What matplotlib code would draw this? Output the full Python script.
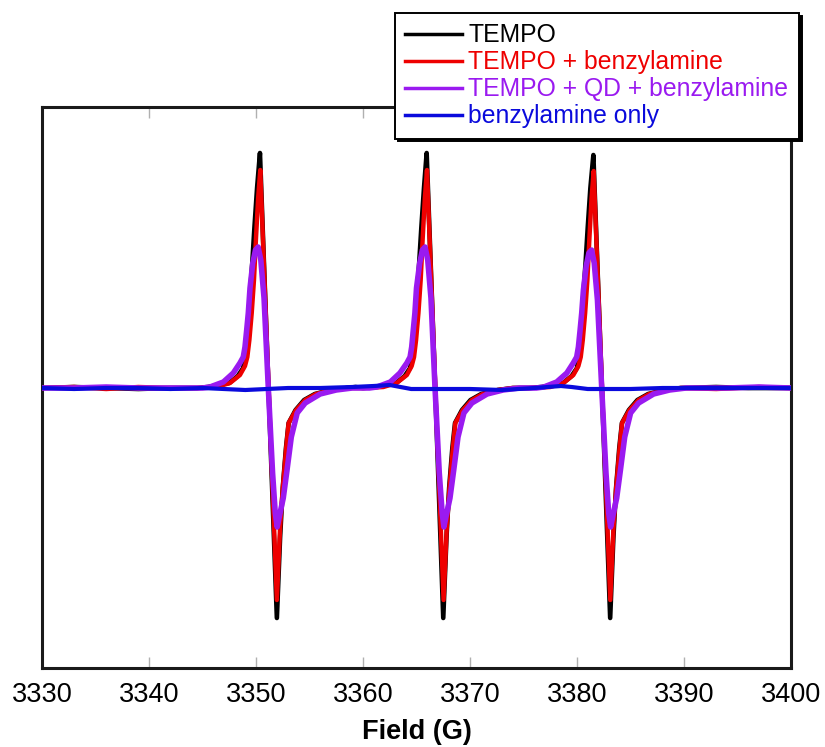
import matplotlib
matplotlib.use("Agg")
import matplotlib.pyplot as plt

plt.rcParams['font.family'] = ['Liberation Sans', 'DejaVu Sans']

# EPR spectra: magnetic field (G) and first-derivative signal (arb. units)
tempo_field = [3330.0, 3333.0, 3336.0, 3339.0, 3342.0, 3344.5, 3345.5, 3346.5, 3347.5, 3348.3,
               3348.8, 3349.0, 3349.2, 3349.45, 3349.65, 3349.85, 3350.1, 3350.37, 3351.16, 3351.95,
               3352.25, 3352.5, 3352.8, 3353.05, 3353.7, 3354.5, 3355.5, 3357.0, 3358.5, 3359.3,
               3360.0, 3361.1, 3362.1, 3363.1, 3363.9, 3364.4, 3364.6, 3364.8, 3365.05, 3365.25,
               3365.45, 3365.7, 3365.95, 3366.74, 3367.5, 3367.8, 3368.05, 3368.35, 3368.6, 3369.25,
               3370.05, 3371.05, 3372.6, 3374.0, 3375.5, 3376.7, 3377.7, 3378.7, 3379.5, 3380.0,
               3380.2, 3380.4, 3380.6, 3380.8, 3381.0, 3381.25, 3381.53, 3382.32, 3383.1, 3383.4,
               3383.65, 3383.95, 3384.2, 3384.85, 3385.65, 3386.65, 3388.2, 3389.7, 3393.0, 3396.0,
               3400.0]
tempo_signal = [0, 1, 0, -1, 0, 0, 1, 3, 5, 12,
                20, 35, 58, 95, 125, 160, 200, 235, 2, -230,
                -150, -100, -60, -35, -22, -12, -6, -2, 0, 1,
                0, 1, 3, 5, 12, 20, 35, 58, 95, 125,
                160, 200, 235, 2, -230, -150, -100, -60, -35, -22,
                -12, -6, -2, 0, 0, 1, 3, 5, 12, 20,
                35, 58, 95, 125, 160, 200, 233, 2, -230, -150,
                -100, -60, -35, -22, -12, -6, -2, 0, 1, 0,
                0]

amine_field = [3330.0, 3333.0, 3336.0, 3339.0, 3342.0, 3344.5, 3346.3, 3347.57, 3348.5, 3348.97,
               3349.19, 3349.38, 3349.6, 3349.81, 3350.0, 3350.2, 3350.4, 3351.17, 3351.95, 3352.25,
               3352.5, 3352.82, 3353.05, 3353.75, 3354.6, 3355.6, 3357.0, 3358.5, 3360.0, 3361.9,
               3363.15, 3364.1, 3364.55, 3364.77, 3364.96, 3365.18, 3365.39, 3365.58, 3365.78, 3365.98,
               3366.75, 3367.53, 3367.83, 3368.08, 3368.4, 3368.63, 3369.33, 3370.18, 3371.18, 3372.6,
               3374.0, 3375.5, 3377.5, 3378.73, 3379.66, 3380.13, 3380.35, 3380.54, 3380.76, 3380.97,
               3381.16, 3381.36, 3381.56, 3382.33, 3383.11, 3383.41, 3383.66, 3383.98, 3384.21, 3384.91,
               3385.76, 3386.76, 3388.2, 3389.7, 3393.0, 3397.0, 3400.0]
amine_signal = [0, 1, -1, 1, 0, 0, 1, 5, 13, 22,
                31, 48, 75, 108, 150, 190, 218, 3, -212, -140,
                -100, -60, -35, -22, -12, -6, -2, 0, 0, 1,
                5, 13, 22, 31, 48, 75, 108, 150, 190, 218,
                3, -212, -140, -100, -60, -35, -22, -12, -6, -2,
                0, 0, 1, 5, 13, 22, 31, 48, 75, 108,
                150, 190, 217, 3, -212, -140, -100, -60, -35, -22,
                -12, -6, -2, 0, -1, 1, 0]

qd_field = [3330.0, 3333.0, 3336.0, 3339.0, 3342.0, 3345.0, 3345.7, 3346.95, 3347.88, 3348.5,
            3348.81, 3348.97, 3349.13, 3349.28, 3349.44, 3349.7, 3349.95, 3350.2, 3350.45, 3350.75,
            3351.15, 3351.55, 3351.8, 3351.98, 3352.25, 3352.55, 3352.9, 3353.3, 3353.85, 3354.6,
            3356.0, 3357.5, 3359.0, 3360.6, 3361.3, 3362.55, 3363.45, 3364.1, 3364.4, 3364.55,
            3364.7, 3364.85, 3365.0, 3365.3, 3365.55, 3365.8, 3366.05, 3366.35, 3366.73, 3367.13,
            3367.4, 3367.56, 3367.83, 3368.13, 3368.48, 3368.88, 3369.43, 3370.18, 3371.6, 3373.1,
            3374.6, 3376.2, 3376.9, 3378.1, 3379.05, 3379.65, 3379.97, 3380.13, 3380.29, 3380.44,
            3380.6, 3380.86, 3381.11, 3381.36, 3381.61, 3381.91, 3382.31, 3382.71, 3382.96, 3383.14,
            3383.41, 3383.71, 3384.06, 3384.46, 3385.01, 3385.76, 3387.16, 3388.66, 3390.2, 3394.0,
            3397.0, 3400.0]
qd_signal = [0, 0, 1, 0, 0, 0, 1, 6, 15, 25,
             31, 41, 58, 75, 100, 125, 138, 141, 128, 90,
             0, -85, -125, -139, -125, -110, -82, -49, -25, -15,
             -6, -2, 0, 0, 1, 6, 15, 25, 31, 41,
             58, 75, 100, 125, 138, 141, 128, 90, 0, -85,
             -125, -139, -125, -110, -82, -49, -25, -15, -6, -2,
             0, 0, 1, 6, 15, 25, 31, 41, 58, 75,
             98, 122, 135, 138, 125, 88, 0, -85, -125, -139,
             -125, -110, -82, -49, -25, -15, -6, -2, 0, 0,
             1, 0]

blank_field = [3330.0, 3333.0, 3336.0, 3339.0, 3342.0, 3345.0, 3347.0, 3349.0, 3351.0, 3353.0,
               3356.0, 3359.0, 3361.0, 3362.5, 3363.5, 3364.5, 3367.0, 3370.0, 3373.0, 3376.0,
               3378.5, 3379.5, 3381.0, 3385.0, 3388.0, 3392.0, 3396.0, 3400.0]
blank_signal = [0, -1, 0, 0, -1, 0, -1, -2, -1, 0,
                0, 1, 2, 3, 1, -1, -1, -1, -2, 0,
                2, 1, -1, -1, 0, 0, 0, 0]

series_labels = ["TEMPO", "TEMPO + benzylamine", "TEMPO + QD + benzylamine", "benzylamine only"]
series_colors = ["#000000", "#EE0000", "#9A1AF0", "#0A0ADC"]

x_ticks = [3330, 3340, 3350, 3360, 3370, 3380, 3390, 3400]

fig = plt.figure(figsize=(8.25, 7.47), dpi=100)
ax = fig.add_axes([42 / 825, 1 - 668 / 747, 749 / 825, 561 / 747])

h1, = ax.plot(tempo_field, tempo_signal, color=series_colors[0], lw=3.3,
              solid_joinstyle='round', zorder=2)
h2, = ax.plot(amine_field, amine_signal, color=series_colors[1], lw=3.2,
              solid_joinstyle='round', zorder=3)
h3, = ax.plot(qd_field, qd_signal, color=series_colors[2], lw=4.0,
              solid_joinstyle='round', zorder=4)
h4, = ax.plot(blank_field, blank_signal, color=series_colors[3], lw=3.0,
              solid_joinstyle='round', zorder=5)

ax.set_xlim(3330, 3400)
ax.set_ylim(-280, 281)
ax.set_xticks(x_ticks)
ax.set_xticklabels([str(t) for t in x_ticks])
ax.tick_params(axis='x', direction='in', top=True, length=8, width=1,
               color='#b0b0b0', labelsize=19.5, pad=10)
ax.tick_params(axis='y', left=False, labelleft=False)
for s in ax.spines.values():
    s.set_linewidth(2.2)
    s.set_color('#1a1a1a')
ax.set_xlabel("Field (G)", fontsize=19.5, fontweight='bold', labelpad=8)

leg = fig.legend([h1, h2, h3, h4], series_labels, loc='upper left',
                 bbox_to_anchor=(395 / 825, 1 - 137 / 747, 404 / 825, 124 / 747),
                 mode='expand', borderaxespad=0, fontsize=17.8,
                 handlelength=2.3, handletextpad=0.25, labelspacing=0.12,
                 borderpad=0.42, fancybox=False, shadow={'color': 'black', 'alpha': 1.0},
                 framealpha=1.0, edgecolor='black')
leg.get_frame().set_linewidth(1.4)
for txt, c in zip(leg.get_texts(), series_colors):
    txt.set_color(c)
for ln in leg.get_lines():
    ln.set_linewidth(2.5)

fig.savefig("out.png", dpi=100)
